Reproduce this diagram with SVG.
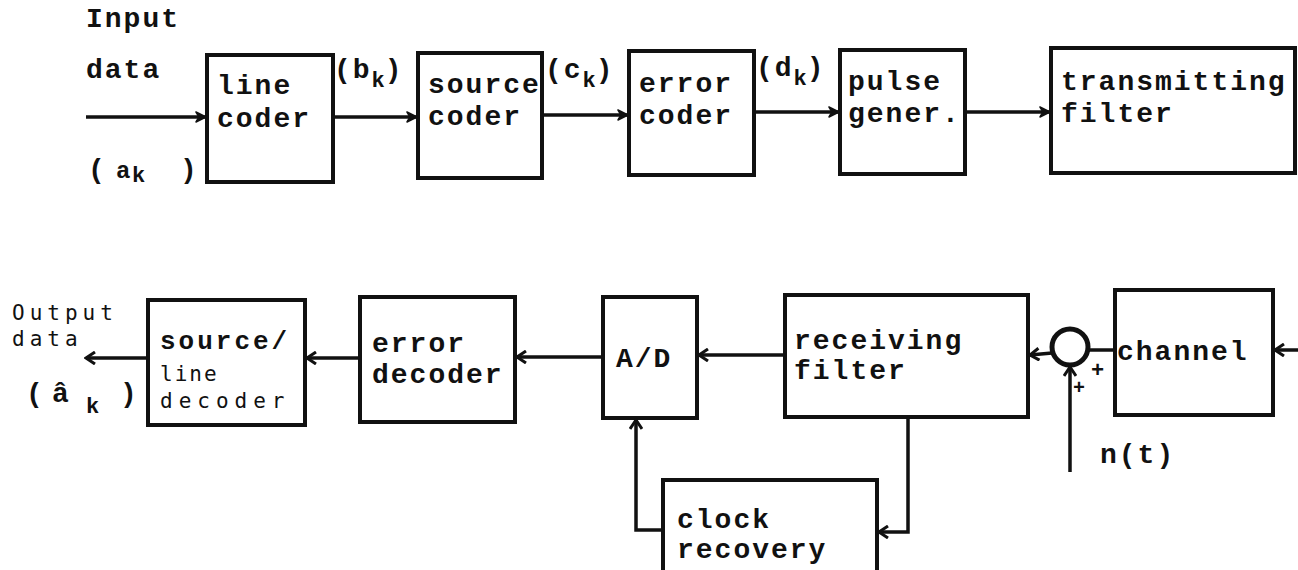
<svg xmlns="http://www.w3.org/2000/svg" width="1298" height="570" viewBox="0 0 1298 570">
  <defs>
    <style>
      .box { fill: none; stroke: #111; stroke-width: 4; stroke-linejoin: miter; }
      .wire { fill: none; stroke: #111; stroke-width: 3.5; }
      .lbl { font-family: "Liberation Mono", "Courier New", monospace; font-weight: bold; font-size: 28px; letter-spacing: 2px; fill: #111; }
      .thin { font-family: "DejaVu Sans Mono", "Liberation Mono", monospace; font-weight: normal; font-size: 21px; letter-spacing: 5px; fill: #111; }
      .sub { font-size: 22px; letter-spacing: 0; }
    </style>
    <marker id="head-solid" viewBox="0 0 12 12" refX="11" refY="6" markerWidth="12" markerHeight="12" markerUnits="userSpaceOnUse" orient="auto">
      <path d="M1,1 L11,6 L1,11 L4,6 Z" fill="#111" stroke="#111" stroke-width="1.5" stroke-linejoin="round"/>
    </marker>
    <marker id="head-open" viewBox="0 0 14 14" refX="12" refY="7" markerWidth="14" markerHeight="14" markerUnits="userSpaceOnUse" orient="auto">
      <path d="M3,1 L12,7 L3,13" fill="none" stroke="#111" stroke-width="3" stroke-linejoin="miter"/>
    </marker>
  </defs>
  <rect width="1298" height="570" fill="#fff"/>

  <!-- transmitter chain -->
  <g id="input-label">
    <text class="lbl" x="86" y="27">Input</text>
    <text class="lbl" x="86" y="78">data</text>
    <text class="lbl" x="88" y="178">(</text>
    <text class="lbl" x="116" y="178" style="font-size:24px">a</text>
    <text class="lbl sub" x="132" y="182">k</text>
    <text class="lbl" x="180" y="178">)</text>
  </g>

  <g id="line-coder">
    <rect class="box" x="207" y="55" width="126" height="127"/>
    <text class="lbl" x="217" y="94">line</text>
    <text class="lbl" x="217" y="127">coder</text>
  </g>

  <g id="source-coder">
    <rect class="box" x="418" y="53" width="124" height="125"/>
    <text class="lbl" x="428" y="93">source</text>
    <text class="lbl" x="428" y="125">coder</text>
  </g>

  <g id="error-coder">
    <rect class="box" x="629" y="51" width="125" height="124"/>
    <text class="lbl" x="639" y="92">error</text>
    <text class="lbl" x="639" y="124">coder</text>
  </g>

  <g id="pulse-generator">
    <rect class="box" x="840" y="50" width="125" height="124"/>
    <text class="lbl" x="848" y="90">pulse</text>
    <text class="lbl" x="848" y="122">gener.</text>
  </g>

  <g id="transmitting-filter">
    <rect class="box" x="1051" y="48" width="244" height="125"/>
    <text class="lbl" x="1061" y="90">transmitting</text>
    <text class="lbl" x="1061" y="122">filter</text>
  </g>

  <g id="sequence-labels">
    <text class="lbl" x="334" y="78">(b<tspan class="sub" dy="9">k</tspan><tspan dy="-9">)</tspan></text>
    <text class="lbl" x="545" y="78">(c<tspan class="sub" dy="9">k</tspan><tspan dy="-9">)</tspan></text>
    <text class="lbl" x="756" y="76">(d<tspan class="sub" dy="9">k</tspan><tspan dy="-9">)</tspan></text>
  </g>

  <!-- receiver chain -->
  <g id="output-label">
    <text class="thin" x="12" y="320">Output</text>
    <text class="thin" x="12" y="346">data</text>
    <text class="lbl" x="26" y="402">(</text>
    <text class="lbl" x="52" y="402">â</text>
    <text class="lbl sub" x="86" y="413">k</text>
    <text class="lbl" x="120" y="402">)</text>
  </g>

  <g id="source-line-decoder">
    <rect class="box" x="148" y="300" width="157" height="125"/>
    <text class="lbl" x="160" y="349" style="font-size:26px;letter-spacing:3px">source/</text>
    <text class="thin" x="160" y="381" style="letter-spacing:2px">line</text>
    <text class="thin" x="160" y="408" style="letter-spacing:6px">decoder</text>
  </g>

  <g id="error-decoder">
    <rect class="box" x="360" y="297" width="155" height="125"/>
    <text class="lbl" x="372" y="352">error</text>
    <text class="lbl" x="372" y="383">decoder</text>
  </g>

  <g id="ad-converter">
    <rect class="box" x="603" y="297" width="94" height="121"/>
    <text class="lbl" x="616" y="367">A/D</text>
  </g>

  <g id="receiving-filter">
    <rect class="box" x="785" y="295" width="243" height="122"/>
    <text class="lbl" x="794" y="349">receiving</text>
    <text class="lbl" x="794" y="379">filter</text>
  </g>

  <g id="clock-recovery">
    <rect class="box" x="663" y="480" width="214" height="100"/>
    <text class="lbl" x="677" y="528">clock</text>
    <text class="lbl" x="677" y="558">recovery</text>
  </g>

  <g id="summing-junction">
    <circle cx="1070" cy="347" r="18" fill="#fff" stroke="#111" stroke-width="5"/>
    <text class="lbl" x="1091" y="377" style="font-size:22px">+</text>
    <text class="lbl" x="1073" y="394" style="font-size:20px">+</text>
  </g>

  <g id="channel">
    <rect class="box" x="1115" y="290" width="158" height="125"/>
    <text class="lbl" x="1117" y="360">channel</text>
  </g>

  <g id="noise-label">
    <text class="lbl" x="1100" y="463">n(t)</text>
  </g>

  <g id="connectors">
    <!-- transmitter -->
    <line class="wire" x1="86" y1="117" x2="206" y2="117" marker-end="url(#head-solid)"/>
    <line class="wire" x1="333" y1="117" x2="417" y2="117" marker-end="url(#head-solid)"/>
    <line class="wire" x1="542" y1="115" x2="628" y2="115" marker-end="url(#head-solid)"/>
    <line class="wire" x1="754" y1="112" x2="839" y2="112" marker-end="url(#head-solid)"/>
    <line class="wire" x1="965" y1="112" x2="1050" y2="112" marker-end="url(#head-solid)"/>
    <!-- receiver -->
    <line class="wire" x1="1298" y1="350" x2="1275" y2="350" marker-end="url(#head-open)"/>
    <line class="wire" x1="1088" y1="350" x2="1117" y2="350"/>
    <line class="wire" x1="1052" y1="353" x2="1030" y2="355" marker-end="url(#head-open)"/>
    <line class="wire" x1="1070" y1="472" x2="1070" y2="367" marker-end="url(#head-open)"/>
    <line class="wire" x1="785" y1="355" x2="699" y2="355" marker-end="url(#head-open)"/>
    <line class="wire" x1="603" y1="357" x2="517" y2="357" marker-end="url(#head-open)"/>
    <line class="wire" x1="360" y1="358" x2="307" y2="358" marker-end="url(#head-open)"/>
    <line class="wire" x1="148" y1="358" x2="86" y2="358" marker-end="url(#head-open)"/>
    <!-- clock recovery loop -->
    <polyline class="wire" points="908,417 908,532 879,532" marker-end="url(#head-open)"/>
    <polyline class="wire" points="663,530 636,530 636,420" marker-end="url(#head-open)"/>
  </g>
</svg>
